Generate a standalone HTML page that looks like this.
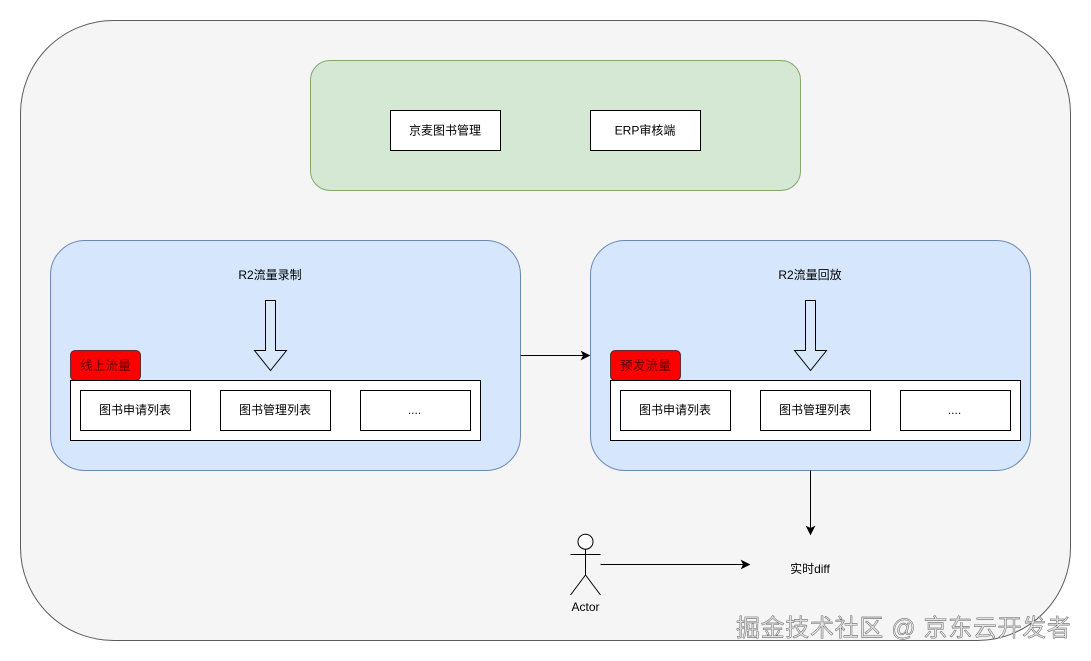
<!DOCTYPE html>
<html lang="zh">
<head>
<meta charset="utf-8">
<title>R2流量录制与回放</title>
<style>
html,body{margin:0;padding:0;background:#fff;width:1091px;height:661px;overflow:hidden}
svg{display:block}
text{font-family:"Liberation Sans","Noto Sans CJK SC",sans-serif;font-size:12px;fill:#000;text-anchor:middle}
.tag{font-size:12.5px;fill:#5a0000;letter-spacing:.2px}
.wm{font-size:24px;text-anchor:start;fill:#e2e2e2;stroke:#4a4a4a;stroke-width:.4px;letter-spacing:.65px}
</style>
</head>
<body>
<svg width="1091" height="661" viewBox="0 0 1091 661" xmlns="http://www.w3.org/2000/svg">
<defs>
<filter id="s" x="-2%" y="-2%" width="104%" height="104%"><feGaussianBlur stdDeviation="0.25"/></filter>
</defs>
<g filter="url(#s)">
<rect x="20.5" y="20.5" width="1050" height="620" rx="93" ry="93" fill="#f5f5f5" stroke="#5c5c5c"/>

<rect x="310.5" y="60.5" width="490" height="130" rx="19.5" ry="19.5" fill="#d5e8d4" stroke="#82a86c"/>
<rect x="390.5" y="110.5" width="110" height="40" fill="#fff" stroke="#000"/>
<text x="445" y="134.5">京麦图书管理</text>
<rect x="590.5" y="110.5" width="110" height="40" fill="#fff" stroke="#000"/>
<text x="645" y="134.5">ERP审核端</text>

<rect x="50.5" y="240.5" width="470" height="230" rx="34.5" ry="34.5" fill="#d6e6fc" stroke="#6c88b4"/>
<text x="270" y="279">R2流量录制</text>
<path d="M265.5 300.5H275.5V350.5H286.5L270.5 370.5L254.5 350.5H265.5Z" fill="#dae8fc" stroke="#000"/>
<rect x="70.5" y="350.5" width="70" height="30" rx="4.5" ry="4.5" fill="#f00" stroke="#000" stroke-opacity=".6"/>
<text class="tag" x="105.5" y="370">线上流量</text>
<rect x="70.5" y="380.5" width="410" height="60" fill="#fff" stroke="#000"/>
<rect x="80.5" y="390.5" width="110" height="40" fill="#fff" stroke="#000"/>
<text x="135" y="414">图书申请列表</text>
<rect x="220.5" y="390.5" width="110" height="40" fill="#fff" stroke="#000"/>
<text x="275" y="414">图书管理列表</text>
<rect x="360.5" y="390.5" width="110" height="40" fill="#fff" stroke="#000"/>
<text x="414.5" y="414">....</text>

<rect x="590.5" y="240.5" width="440" height="230" rx="34.5" ry="34.5" fill="#d6e6fc" stroke="#6c88b4"/>
<text x="810" y="279">R2流量回放</text>
<path d="M805.5 300.5H815.5V350.5H826.5L810.5 370.5L794.5 350.5H805.5Z" fill="#dae8fc" stroke="#000"/>
<rect x="610.5" y="350.5" width="70" height="30" rx="4.5" ry="4.5" fill="#f00" stroke="#000" stroke-opacity=".6"/>
<text class="tag" x="645.5" y="370">预发流量</text>
<rect x="610.5" y="380.5" width="410" height="60" fill="#fff" stroke="#000"/>
<rect x="620.5" y="390.5" width="110" height="40" fill="#fff" stroke="#000"/>
<text x="675" y="414">图书申请列表</text>
<rect x="760.5" y="390.5" width="110" height="40" fill="#fff" stroke="#000"/>
<text x="815" y="414">图书管理列表</text>
<rect x="900.5" y="390.5" width="110" height="40" fill="#fff" stroke="#000"/>
<text x="954.5" y="414">....</text>

<path d="M520.5 355.5H584" fill="none" stroke="#000"/>
<path d="M589.5 355.5L581.5 359.5L583.5 355.5L581.5 351.5Z" fill="#000" stroke="#000" stroke-width=".8"/>
<path d="M810.5 470.5V529" fill="none" stroke="#000"/>
<path d="M810.5 534.5L806.5 526.5L810.5 528.5L814.5 526.5Z" fill="#000" stroke="#000" stroke-width=".8"/>
<path d="M600.5 564.5H744" fill="none" stroke="#000"/>
<path d="M749.5 564.5L741.5 568.5L743.5 564.5L741.5 560.5Z" fill="#000" stroke="#000" stroke-width=".8"/>

<circle cx="585.5" cy="541.7" r="7.5" fill="#fff" stroke="#000"/>
<path d="M585.5 549.2V575M570.5 554.5H600.5M585.5 575L570.5 595M585.5 575L600.5 595" fill="none" stroke="#000"/>
<text x="585.5" y="611">Actor</text>
<text x="810" y="573">实时diff</text>

<text class="wm" x="736" y="636">掘金技术社区 @ 京东云开发者</text>
</g>
</svg>
</body>
</html>
